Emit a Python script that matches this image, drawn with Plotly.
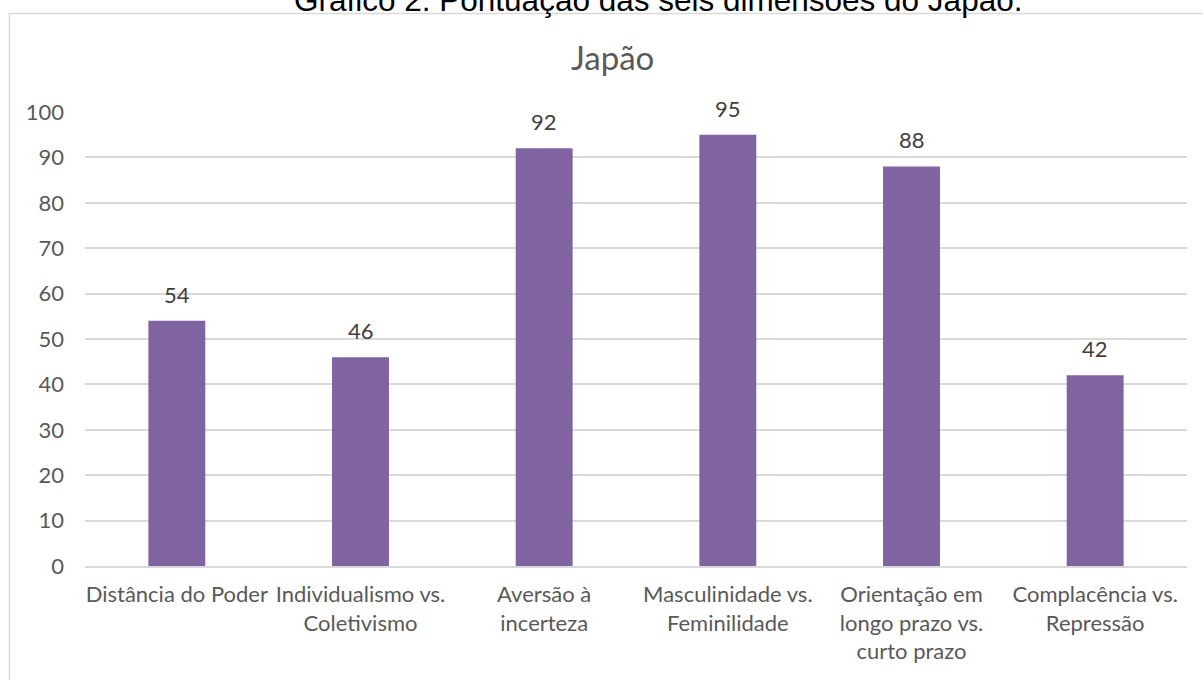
import plotly.graph_objects as go

categories = [
    "Distância do Poder",
    "Individualismo vs.<br>Coletivismo",
    "Aversão à<br>incerteza",
    "Masculinidade vs.<br>Feminilidade",
    "Orientação em<br>longo prazo vs.<br>curto prazo",
    "Complacência vs.<br>Repressão",
]
scores = [54, 46, 92, 95, 88, 42]
y_ticks = [0, 10, 20, 30, 40, 50, 60, 70, 80, 90, 100]

W, H = 1203, 680
L, R, T, B = 85, 1187, 112, 566  # plot area in pixels


def px_x(p):
    return (p - L) / (R - L)


def px_y(p):
    return (B - p) / (B - T)


BAR = "#8064A2"
GRID = "#D9D9D9"
TXT = "#595959"
FONT = "Lato"

fig = go.Figure(
    go.Bar(
        x=categories,
        y=scores,
        marker=dict(color=BAR, line=dict(width=0)),
        width=0.31,
        hoverinfo="skip",
    )
)

annotations = []
for c, v in zip(categories, scores):
    annotations.append(dict(
        x=c, y=v, xref="x", yref="y", text=str(v), showarrow=False,
        yanchor="bottom", yshift=11,
        font=dict(family=FONT, size=22, color="#404040"),
    ))

annotations.append(dict(
    x=px_x(658), y=px_y(20), xref="paper", yref="paper",
    text="Gráfico 2: Pontuação das seis dimensões do Japão.",
    showarrow=False, xanchor="center", yanchor="bottom",
    font=dict(family="Liberation Sans, Arial", size=31.5, color="#000000"),
))

annotations.append(dict(
    x=px_x(612), y=px_y(57), xref="paper", yref="paper",
    text="Japão", showarrow=False, xanchor="center", yanchor="middle",
    font=dict(family=FONT, size=33, color=TXT),
))

fig.update_layout(
    width=W, height=H,
    margin=dict(l=L, r=W - R, t=T, b=H - B, pad=0),
    paper_bgcolor="white", plot_bgcolor="white",
    showlegend=False,
    annotations=annotations,
    bargap=0.69,
    shapes=[dict(
        type="rect", xref="paper", yref="paper",
        x0=px_x(9.5), x1=px_x(1230), y0=px_y(700), y1=px_y(13.5),
        line=dict(color=GRID, width=1.5), fillcolor="rgba(0,0,0,0)", layer="below",
    )],
)

fig.update_xaxes(
    showgrid=False, showline=True, linecolor=GRID, linewidth=1.5,
    ticks="", tickfont=dict(family=FONT, size=22, color=TXT),
    ticklabelstandoff=8, tickangle=0,
)
fig.update_yaxes(
    range=[0, 100], tickvals=y_ticks, showgrid=True, gridcolor=GRID, gridwidth=1.5,
    zeroline=False, showline=False, ticks="",
    tickfont=dict(family=FONT, size=22, color=TXT), ticklabelstandoff=20,
)

fig.write_html("out.html")
